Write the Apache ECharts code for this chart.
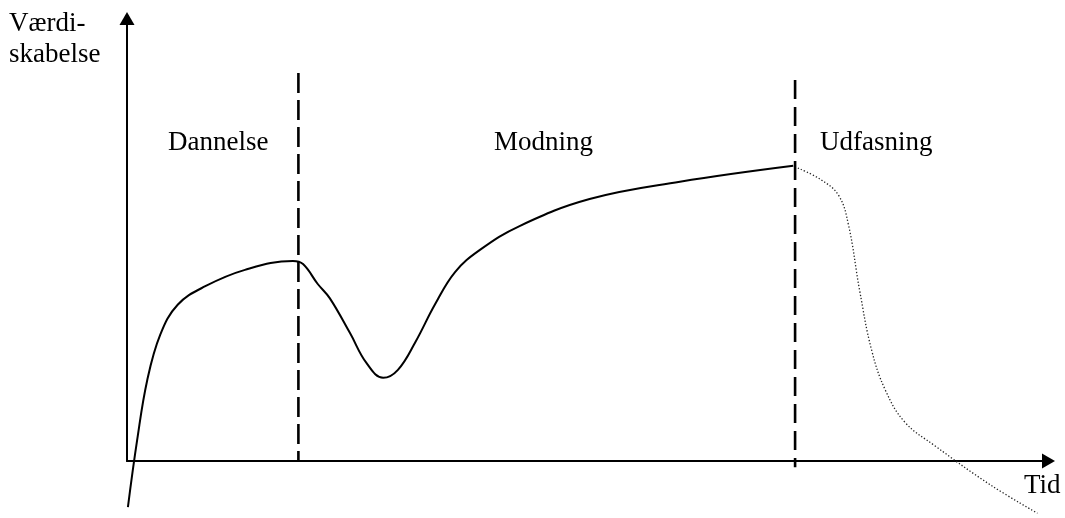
<!DOCTYPE html>
<html>
<head>
<meta charset="utf-8">
<style>
  html, body { margin: 0; padding: 0; background: #fff; }
  #chart { width: 1065px; height: 518px; }
</style>
<script src="https://cdn.jsdelivr.net/npm/echarts@6/dist/echarts.min.js"></script>
</head>
<body>
<div id="chart"></div>
<script>
// time (0-100) vs value creation (0-100)
var valueCurve = [
  [0.1, -10.4], [1.1, 4.7], [2.2, 18.3], [3.6, 28.5], [5.5, 35.3], [8.5, 39.5],
  [12.8, 43.2], [18.0, 45.2], [19.1, 44.5], [20.7, 40.0], [22.0, 36.8], [24.2, 28.9],
  [26.0, 22.1], [27.8, 18.8], [29.4, 20.6], [31.3, 26.9], [33.4, 35.3], [35.6, 42.7],
  [38.3, 47.7], [42.6, 53.1], [50.2, 59.2], [60.0, 63.1], [72.3, 66.7]
];
var phaseOutCurve = [
  [72.8, 66.2], [75.2, 63.7], [77.2, 60.1], [78.3, 53.3], [79.5, 38.6], [80.8, 25.1],
  [82.3, 16.0], [84.4, 8.8], [87.7, 3.4], [93.7, -5.4], [98.8, -11.8]
];
var phaseBoundary1 = [[18.6, 87.7], [18.6, 0]];
var phaseBoundary2 = [[72.5, 86.1], [72.5, -1.4]];
var phaseNames = ['Dannelse', 'Modning', 'Udfasning'];
var xName = 'Tid';
var yName = ['Værdi-', 'skabelse'];

var chart = echarts.init(document.getElementById('chart'));
var font = '27px "Liberation Serif", "Times New Roman", serif';

function axis() {
  return {
    type: 'value',
    min: 0,
    max: 100,
    axisLine: {
      show: true,
      onZero: false,
      symbol: ['none', 'triangle'],
      symbolSize: [15, 13],
      lineStyle: { color: '#000', width: 2 }
    },
    axisTick: { show: false },
    axisLabel: { show: false },
    splitLine: { show: false }
  }
}

function text(str, x, y) {
  return {
    type: 'text',
    x: x,
    y: y,
    style: {
      text: str,
      font: font,
      fill: '#000',
      verticalAlign: 'middle'
    }
  }
}

chart.setOption({
  animation: false,
  grid: { left: 127, right: 16.5, top: 18.5, bottom: 57 },
  xAxis: axis(),
  yAxis: axis(),
  series: [
    {
      type: 'line',
      data: valueCurve,
      smooth: 0.4,
      showSymbol: false,
      clip: false,
      lineStyle: { color: '#000', width: 2 }
    },
    {
      type: 'line',
      data: phaseOutCurve,
      smooth: 0.4,
      showSymbol: false,
      clip: false,
      lineStyle: { color: '#222', width: 1.3, type: [1.3, 2] }
    },
    {
      type: 'line',
      data: phaseBoundary1,
      showSymbol: false,
      clip: false,
      lineStyle: { color: '#000', width: 2.6, type: [20, 7] }
    },
    {
      type: 'line',
      data: phaseBoundary2,
      showSymbol: false,
      clip: false,
      lineStyle: { color: '#000', width: 2.6, type: [19, 8] }
    }
  ],
  graphic: [
    text(yName[0], 9, 24),
    text(yName[1], 9, 55),
    text(phaseNames[0], 168, 143),
    text(phaseNames[1], 494, 143),
    text(phaseNames[2], 820, 143),
    text(xName, 1024, 486)
  ]
})
</script>
</body>
</html>
